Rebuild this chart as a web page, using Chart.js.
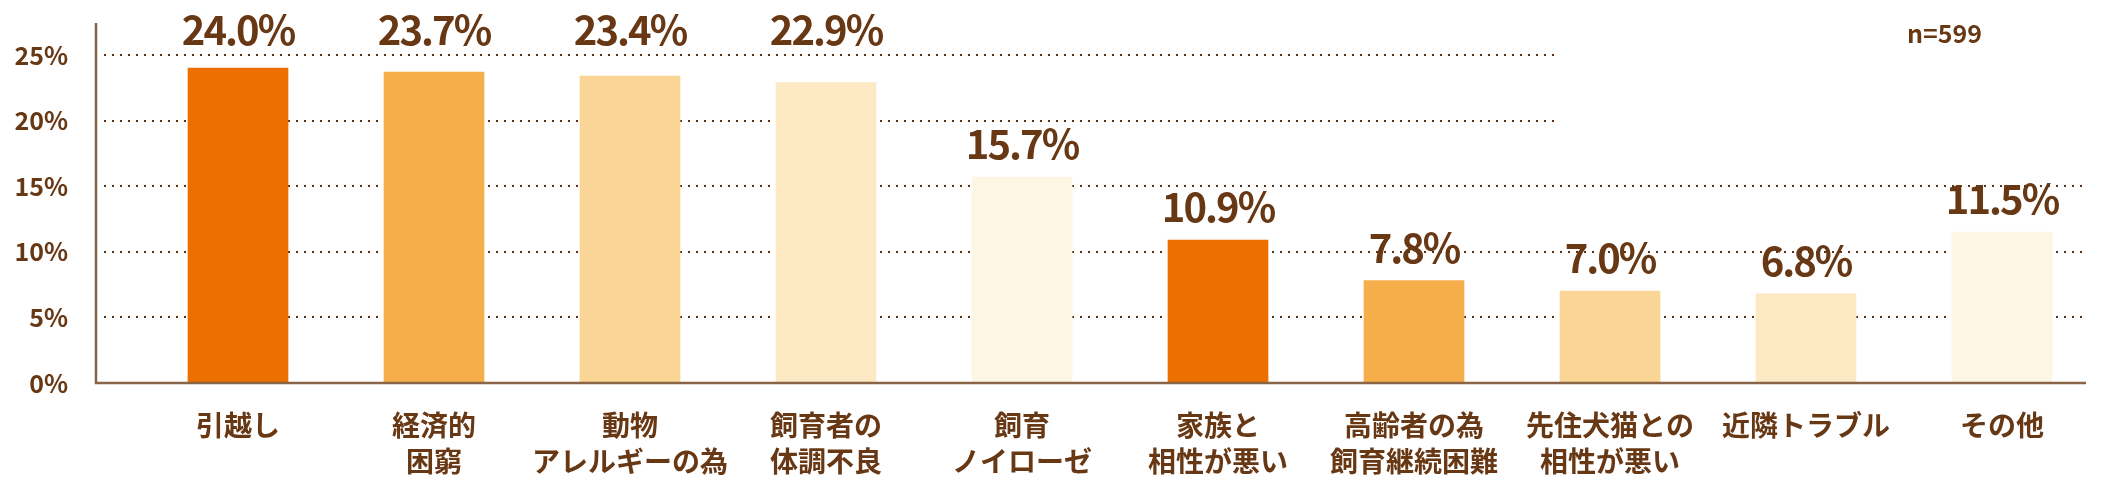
<!DOCTYPE html>
<html>
<head>
<meta charset="utf-8">
<script src="https://cdn.jsdelivr.net/npm/chart.js@4/dist/chart.umd.min.js"></script>
<style>
  html, body { margin: 0; padding: 0; background: #fff; }
  #wrap { width: 2111px; height: 486px; position: relative; }
</style>
</head>
<body>
<div id="wrap"><canvas id="reasons"></canvas></div>
<script>
const labels = [
    ['引越し'],
    ['経済的', '困窮'],
    ['動物', 'アレルギーの為'],
    ['飼育者の', '体調不良'],
    ['飼育', 'ノイローゼ'],
    ['家族と', '相性が悪い'],
    ['高齢者の為', '飼育継続困難'],
    ['先住犬猫との', '相性が悪い'],
    ['近隣トラブル'],
    ['その他']
];
const values = [24.0, 23.7, 23.4, 22.9, 15.7, 10.9, 7.8, 7.0, 6.8, 11.5];
const barColors = ['#ed6f00', '#f5ae4a', '#fbd595', '#fde9c4', '#fdf6e4',
                   '#ed6f00', '#f5ae4a', '#fbd595', '#fde9c4', '#fdf6e4'];
const sampleNote = 'n=599';

const brown = '#683815';
const axisBrown = '#8a6446';
const font = '"Noto Sans CJK JP", "Noto Sans", sans-serif';

// dotted guides, axis lines, value labels and the n= note
const decor = {
    id: 'decor',
    beforeDatasetsDraw(chart) {
        const {ctx, chartArea, scales: {x, y}} = chart;
        const axisX = chartArea.left - 44;
        const cut = x.getPixelForValue(7) - 50;
        ctx.save();
        ctx.strokeStyle = '#5a3010';
        ctx.lineWidth = 2.2;
        ctx.setLineDash([2, 6]);
        y.ticks.forEach(t => {
            if (t.value === 0) return;
            const py = Math.round(y.getPixelForValue(t.value));
            const end = t.value >= 20 ? cut : chartArea.right - 14;
            ctx.beginPath();
            ctx.moveTo(axisX + 8, py);
            ctx.lineTo(end, py);
            ctx.stroke();
        });
        ctx.restore();
    },
    afterDatasetsDraw(chart) {
        const {ctx, chartArea, scales: {y}} = chart;
        const axisX = chartArea.left - 44;
        const base = y.getPixelForValue(0);
        ctx.save();
        ctx.strokeStyle = axisBrown;
        ctx.lineWidth = 2.5;
        ctx.beginPath();
        ctx.moveTo(axisX, chartArea.top - 32);
        ctx.lineTo(axisX, base);
        ctx.lineTo(chartArea.right - 14, base);
        ctx.stroke();

        ctx.fillStyle = brown;
        ctx.textAlign = 'center';
        ctx.textBaseline = 'alphabetic';
        ctx.font = 'bold 40px ' + font;
        ctx.letterSpacing = '-2px';
        chart.getDatasetMeta(0).data.forEach((bar, i) => {
            let ty = bar.y - 18;
            // labels that would sit on the top guide go above it
            if (ty < chartArea.top + 15) ty = chartArea.top - 10;
            ctx.fillText(values[i].toFixed(1) + '%', bar.x, ty);
        });

        ctx.letterSpacing = '0px';
        ctx.font = 'bold 25px ' + font;
        ctx.textAlign = 'right';
        ctx.fillText(sampleNote, 1982, 43);
        ctx.restore();
    }
};

const config = {
    type: 'bar',
    data: {
        labels: labels,
        datasets: [{
            data: values,
            backgroundColor: barColors,
            barThickness: 100
        }]
    },
    options: {
        responsive: false,
        animation: false,
        layout: { padding: { top: 55, right: 11, left: 0, bottom: 0 } },
        plugins: {
            legend: { display: false },
            tooltip: { enabled: false }
        },
        scales: {
            x: {
                grid: { display: false, drawTicks: false },
                border: { display: false },
                ticks: {
                    color: brown,
                    padding: 24,
                    maxRotation: 0,
                    autoSkip: false,
                    font: { family: font, size: 28, weight: 'bold', lineHeight: 1.3 }
                },
                afterFit(axis) { axis.height = 103; }
            },
            y: {
                min: 0,
                max: 25,
                grid: { display: false, drawTicks: false },
                border: { display: false },
                ticks: {
                    stepSize: 5,
                    padding: 72,
                    color: brown,
                    font: { family: font, size: 25, weight: 'bold' },
                    callback: v => v + '%'
                },
                afterFit(axis) {
                    axis.width = 140;
                    axis.paddingTop = 0;
                    axis.paddingBottom = 0;
                }
            }
        }
    },
    plugins: [decor]
};

const canvas = document.getElementById('reasons');
canvas.width = 2111;
canvas.height = 486;
const myChart = new Chart(canvas, config);
</script>
</body>
</html>
